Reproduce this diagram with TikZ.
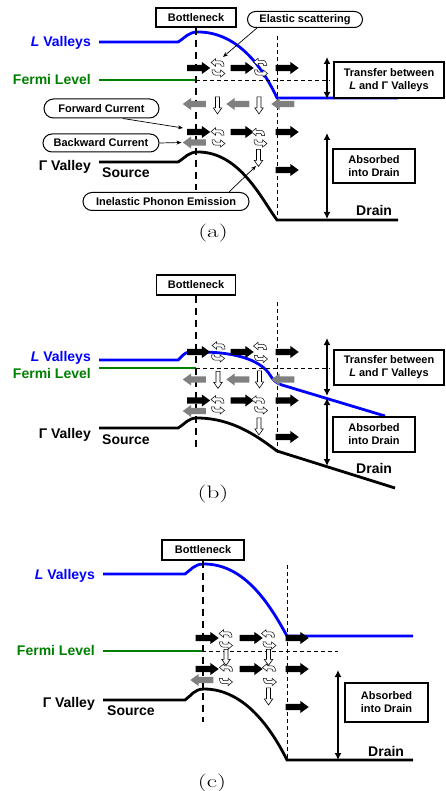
\documentclass[tikz,border=0pt]{standalone}
\usepackage{fontspec}
\newfontfamily\arial{Liberation Sans}
\usetikzlibrary{shapes.arrows,shapes.misc,arrows.meta}
\definecolor{lvblue}{RGB}{0,0,255}
\definecolor{fgreen}{RGB}{0,128,0}
\definecolor{agray}{RGB}{128,128,128}
\begin{document}
\begin{tikzpicture}[x=1pt,y=-1pt,
  bigtxt/.style={font=\arial\bfseries\fontsize{14}{16}\selectfont, inner sep=0pt},
  captxt/.style={font=\fontsize{18}{21}\selectfont, inner sep=0pt},
  sbox/.style={draw, line width=1.3pt, fill=white, align=center, inner sep=0pt,
    font=\arial\bfseries\fontsize{11}{13}\selectfont},
  rbox/.style={rounded rectangle, draw, line width=1pt, fill=white, inner sep=0pt,
    font=\arial\bfseries\fontsize{11}{13}\selectfont},
  vline/.style={line width=2.8pt},
  thickdash/.style={line width=1.8pt, dash pattern=on 7pt off 5pt},
  thindash/.style={line width=0.9pt, dash pattern=on 4pt off 3pt},
  dblarr/.style={line width=1.4pt, {Latex[length=7pt,width=7pt]}-{Latex[length=7pt,width=7pt]}},
  conn/.style={line width=0.7pt, -{Stealth[length=5pt,width=4pt]}},
  barrow/.style={single arrow, fill=black, minimum height=23pt, inner xsep=0pt, inner ysep=3pt,
    single arrow head extend=2.9pt, single arrow tip angle=72},
  garrow/.style={barrow, fill=agray, shape border rotate=180},
  harrow/.style={single arrow, draw=black, fill=white, line width=0.6pt, minimum height=17pt,
    inner ysep=0pt, inner xsep=1.7pt, single arrow head extend=2.2pt, single arrow tip angle=70,
    shape border rotate=270},
  scat/.pic={\filldraw[fill=white, line width=0.5pt] (-6.5,-0.5) -- (-2,-4.2) -- (-2,-2.2) -- (2.3,-2.2)
     .. controls (5.5,-2.2) and (6.5,0) .. (6.5,3.2) -- (3.7,3.2) .. controls (3.7,1.6) and (3.2,0.9) .. (2,0.9)
     -- (-2,0.9) -- (-2,3.2) -- cycle;}
]
\useasboundingbox[fill=white] (0,0) rectangle (446,791);

%%%%%%%%%%%%%%%% panel (a)
\draw[vline, lvblue] (99,42) -- (178,42) .. controls (185,38) and (188,32) .. (198,32)
  .. controls (240,32) and (265,72) .. (277,98) -- (398,98);
\draw[vline, fgreen] (99,80) -- (196,80);
\draw[vline] (99,162) -- (178,162) .. controls (185,158) and (188,152) .. (198,152)
  .. controls (240,152) and (262,200) .. (277,220) -- (398,220);
\node[sbox, minimum width=80pt, minimum height=19pt] (bnA) at (196,17.5) {Bottleneck};
\coordinate (bnAend) at (196,190);
\draw[thickdash] (bnA.south) -- (bnAend);
\draw[thindash] (277,36) -- (277,218);
\draw[thindash] (196,80) -- (330,80);

\node[bigtxt, text=lvblue, anchor=base east] (lvA) at (91,46.7) {\textit{L} Valleys};
\node[bigtxt, text=fgreen, anchor=base east] (flA) at (91,85) {Fermi Level};
\node[bigtxt, anchor=base east] (gvA) at (91,170.7) {Γ Valley};
\node[bigtxt, anchor=base west] (srA) at (102,177.3) {Source};
\node[bigtxt, anchor=base west] (drA) at (356,216) {Drain};
\node[captxt] (capA) at (213,233) {\scalebox{1.4}[1]{(a)}};

\node[sbox, minimum width=110pt, minimum height=36pt] (trA) at (389,80) {Transfer between\\\textit{L} and Γ Valleys};
\node[sbox, minimum width=82pt, minimum height=34pt] (abA) at (374,166) {Absorbed\\into Drain};
\coordinate (dA1) at (327,57); \coordinate (dA2) at (327,99);
\coordinate (dA3) at (327,133); \coordinate (dA4) at (327,219);
\draw[dblarr] (dA1) -- (dA2);
\draw[dblarr] (dA3) -- (dA4);

\node[barrow] (a1) at (196.5,68) {};
\node[barrow] (a2) at (240,68) {};
\node[barrow] (a3) at (285,68) {};
\pic at (217.5,63) {scat}; \pic[rotate=180] at (218.5,73) {scat};
\pic at (260,62.5) {scat}; \pic[rotate=180] at (261,73) {scat};
\node[garrow] (a4) at (196.5,104) {};
\node[garrow] (a5) at (240,104) {};
\node[garrow] (a6) at (285,104) {};
\node[harrow] (a7) at (217.5,104) {};
\node[harrow] (a8) at (259,104) {};
\node[barrow] (a9) at (196.5,132) {};
\node[barrow] (a10) at (240,132) {};
\node[barrow] (a11) at (285,132) {};
\pic at (217.5,132) {scat}; \pic[rotate=180] at (218.5,143) {scat};
\pic at (258,132.5) {scat}; \pic[rotate=180] at (260.5,143) {scat};
\node[garrow] (a12) at (196.5,142.5) {};
\node[harrow] (a13) at (258.5,156.5) {};
\node[barrow] (a14) at (285,170) {};

\node[rbox, minimum width=115pt, minimum height=16pt] (esA) at (305,19.5) {Elastic scattering};
\node[rbox, minimum width=115pt, minimum height=19pt] (fcA) at (101.5,108.5) {Forward Current};
\node[rbox, minimum width=116pt, minimum height=18pt] (bcA) at (101,143) {Backward Current};
\node[rbox, minimum width=166pt, minimum height=18pt] (ipA) at (166,201.5) {Inelastic Phonon Emission};
\coordinate (esEnd) at (223,57);
\draw[conn] ([xshift=-48pt]esA.south) -- (esEnd);
\coordinate (fcEnd) at (183,128);
\draw[conn] (fcA.-25) -- (fcEnd);
\draw[conn] (bcA.east) -- ([xshift=-1pt]a12.tip);
\coordinate (ipEnd) at (256,166);
\draw[conn] ([xshift=63pt]ipA.north) -- (ipEnd);

%%%%%%%%%%%%%%%% panel (b)
\draw[vline, lvblue] (99,360) -- (178,360) .. controls (182,357) and (184,352) .. (190,352) -- (200,352)
  .. controls (240,352) and (262,362) .. (270,375) .. controls (273,380) and (276,383) .. (282,385) -- (385,416);
\draw[vline, fgreen] (99,368) -- (196,368);
\draw[vline] (99,428) -- (178,428) .. controls (185,424) and (188,418) .. (197,418)
  .. controls (235,418) and (262,440) .. (277,451) -- (395,488);
\node[sbox, minimum width=79pt, minimum height=20pt] (bnB) at (196,285) {Bottleneck};
\coordinate (bnBend) at (196,450);
\draw[thickdash] (bnB.south) -- (bnBend);
\draw[thindash] (277,302) -- (277,453);
\draw[thindash] (196,368) -- (330,368);

\node[bigtxt, text=lvblue, anchor=base east] (lvB) at (91,361.7) {\textit{L} Valleys};
\node[bigtxt, text=fgreen, anchor=base east] (flB) at (91,378.3) {Fermi Level};
\node[bigtxt, anchor=base east] (gvB) at (91,438.3) {Γ Valley};
\node[bigtxt, anchor=base west] (srB) at (102,444.3) {Source};
\node[bigtxt, anchor=base west] (drB) at (356,473.3) {Drain};
\node[captxt] (capB) at (213,494) {\scalebox{1.4}[1]{(b)}};

\node[sbox, minimum width=110pt, minimum height=35pt] (trB) at (389,367.5) {Transfer between\\\textit{L} and Γ Valleys};
\node[sbox, minimum width=82pt, minimum height=35pt] (abB) at (374,434.5) {Absorbed\\into Drain};
\coordinate (dB1) at (327,338); \coordinate (dB2) at (327,396);
\coordinate (dB3) at (327,398); \coordinate (dB4) at (327,466);
\draw[dblarr] (dB1) -- (dB2);
\draw[dblarr] (dB3) -- (dB4);

\node[barrow] (b1) at (196.5,352) {};
\node[barrow] (b2) at (240,352) {};
\node[barrow] (b3) at (285,352) {};
\pic at (218.5,346) {scat}; \pic[rotate=180] at (218,358) {scat};
\pic at (260,346.5) {scat}; \pic[rotate=180] at (261,358.5) {scat};
\node[garrow] (b4) at (196.5,379.5) {};
\node[garrow] (b5) at (240,379.5) {};
\node[garrow] (b6) at (285,379.5) {};
\node[harrow] (b7) at (218,378.5) {};
\node[harrow] (b8) at (259.5,378) {};
\node[barrow] (b9) at (196.5,400.5) {};
\node[barrow] (b10) at (240,400.5) {};
\node[barrow] (b11) at (285,400.5) {};
\pic at (217.5,400) {scat}; \pic[rotate=180] at (218,410) {scat};
\pic at (258,400) {scat}; \pic[rotate=180] at (261,410) {scat};
\node[garrow] (b12) at (196.5,411) {};
\node[harrow] (b13) at (259,425) {};
\node[barrow] (b14) at (285,437) {};

%%%%%%%%%%%%%%%% panel (c)
\draw[vline, lvblue] (103,574) -- (185,574) .. controls (191,570) and (194,564) .. (204,564)
  .. controls (245,564) and (270,605) .. (287,636) -- (413,636);
\draw[vline, fgreen] (103,651) -- (202,651);
\draw[vline] (103,700) -- (185,700) .. controls (191,696) and (194,689) .. (204,689)
  .. controls (245,689) and (272,730) .. (287,760) -- (413,760);
\node[sbox, minimum width=82pt, minimum height=20pt] (bnC) at (203,550) {Bottleneck};
\coordinate (bnCend) at (203,722);
\draw[thickdash] (bnC.south) -- (bnCend);
\draw[thindash] (287,565) -- (287,760);
\draw[thindash] (202,651) -- (338,651);

\node[bigtxt, text=lvblue, anchor=base east] (lvC) at (95,579.3) {\textit{L} Valleys};
\node[bigtxt, text=fgreen, anchor=base east] (flC) at (95,655.7) {Fermi Level};
\node[bigtxt, anchor=base east] (gvC) at (95,707.3) {Γ Valley};
\node[bigtxt, anchor=base west] (srC) at (107,715) {Source};
\node[bigtxt, anchor=base west] (drC) at (368,756) {Drain};
\node[captxt] (capC) at (212,783) {\scalebox{1.4}[1]{(c)}};

\node[sbox, minimum width=83pt, minimum height=39pt] (abC) at (386.5,702.5) {Absorbed\\into Drain};
\coordinate (dC1) at (338,670); \coordinate (dC2) at (338,760);
\draw[dblarr] (dC1) -- (dC2);

\node[barrow] (c1) at (205,638) {};
\node[barrow] (c2) at (249,638) {};
\node[barrow] (c3) at (295,638) {};
\node[harrow, minimum height=16pt] (c4) at (226,656) {};
\node[harrow, minimum height=16pt] (c5) at (268.5,656) {};
\pic at (225.5,634) {scat}; \pic[rotate=180] at (226,645) {scat};
\pic at (268,634) {scat}; \pic[rotate=180] at (269.5,645) {scat};
\node[barrow] (c6) at (205,669) {};
\node[barrow] (c7) at (249,669) {};
\node[barrow] (c8) at (295,669) {};
\pic at (226,668) {scat}; \pic[rotate=180] at (226,681.5) {scat};
\pic at (269,668) {scat}; \pic[rotate=180] at (270,681.5) {scat};
\node[garrow] (c9) at (204,680) {};
\node[harrow] (c10) at (268.5,695) {};
\node[barrow] (c11) at (295,707) {};
\end{tikzpicture}
\end{document}
